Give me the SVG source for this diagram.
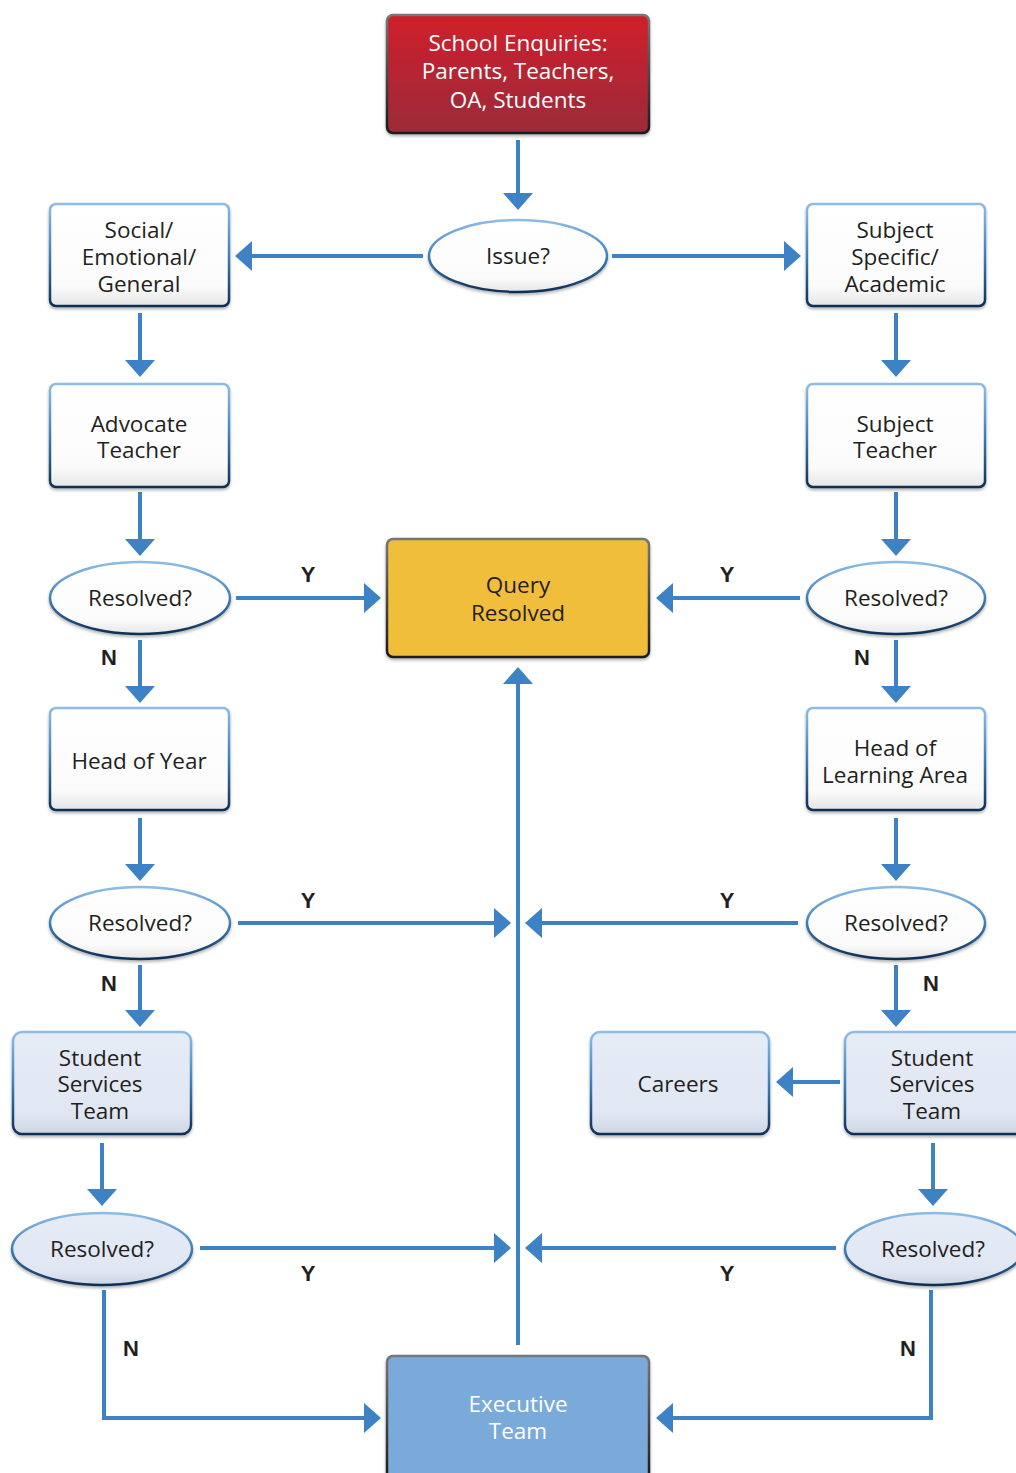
<svg xmlns="http://www.w3.org/2000/svg" width="1016" height="1473" viewBox="0 0 1016 1473">
<defs>
  <linearGradient id="gRed" x1="0" y1="0" x2="0" y2="1">
    <stop offset="0" stop-color="#cf1f2b"/>
    <stop offset="1" stop-color="#9c2b3a"/>
  </linearGradient>
  <linearGradient id="gWhite" x1="0" y1="0" x2="0" y2="1">
    <stop offset="0" stop-color="#ffffff"/>
    <stop offset="0.8" stop-color="#fbfbfb"/>
    <stop offset="1" stop-color="#e6e6e6"/>
  </linearGradient>
  <linearGradient id="gLight" x1="0" y1="0" x2="0" y2="1">
    <stop offset="0" stop-color="#e6ecf6"/>
    <stop offset="0.8" stop-color="#e0e7f3"/>
    <stop offset="1" stop-color="#cdd5e2"/>
  </linearGradient>
  <linearGradient id="gBorder" x1="0" y1="0" x2="0" y2="1">
    <stop offset="0" stop-color="#8dbde6"/>
    <stop offset="0.5" stop-color="#3f7fb8"/>
    <stop offset="1" stop-color="#0e2f55"/>
  </linearGradient>
  <linearGradient id="gDark" x1="0" y1="0" x2="0" y2="1">
    <stop offset="0" stop-color="#777777"/>
    <stop offset="1" stop-color="#1a1a1a"/>
  </linearGradient>
  <filter id="sh" x="-10%" y="-10%" width="120%" height="130%">
    <feDropShadow dx="0" dy="2" stdDeviation="1.5" flood-color="#000" flood-opacity="0.3"/>
  </filter>
  <marker id="ah" markerUnits="userSpaceOnUse" markerWidth="20" markerHeight="32" viewBox="0 0 20 32" refX="2" refY="16" orient="auto">
    <path d="M0,1 L17,16 L0,31 z" fill="#3d82c4"/>
  </marker>
</defs>
<style>
  .box { stroke: url(#gBorder); stroke-width: 2.5; filter: url(#sh); }
  .w { fill: url(#gWhite); }
  .lb { fill: url(#gLight); }
  .dk { stroke: url(#gDark); stroke-width: 2.5; filter: url(#sh); }
  .t { font-family: "Open Sans", "Noto Sans", sans-serif; font-size: 22.5px; fill: #231f20; text-anchor: middle; }
  .tw { font-family: "Open Sans", "Noto Sans", sans-serif; font-size: 22.5px; fill: #ffffff; text-anchor: middle; }
  .lbl { font-family: "Liberation Sans", Arial, sans-serif; font-size: 22px; font-weight: bold; fill: #231f20; text-anchor: middle; }
  .c { fill: none; stroke: #3d82c4; stroke-width: 4; marker-end: url(#ah); }
</style>
<rect width="1016" height="1473" fill="#ffffff"/>

<g id="connectors">
  <line class="c" x1="518" y1="140" x2="518" y2="195"/>
  <line class="c" x1="423" y1="256" x2="250" y2="256"/>
  <line class="c" x1="612" y1="256" x2="786" y2="256"/>
  <line class="c" x1="140" y1="313" x2="140" y2="362"/>
  <line class="c" x1="896" y1="313" x2="896" y2="362"/>
  <line class="c" x1="140" y1="492" x2="140" y2="541"/>
  <line class="c" x1="896" y1="492" x2="896" y2="541"/>
  <line class="c" x1="236" y1="598" x2="366" y2="598"/>
  <line class="c" x1="800" y1="598" x2="671" y2="598"/>
  <line class="c" x1="140" y1="640" x2="140" y2="688"/>
  <line class="c" x1="896" y1="640" x2="896" y2="688"/>
  <line class="c" x1="140" y1="818" x2="140" y2="866"/>
  <line class="c" x1="896" y1="818" x2="896" y2="866"/>
  <line class="c" x1="238" y1="923" x2="496" y2="923"/>
  <line class="c" x1="798" y1="923" x2="540" y2="923"/>
  <line class="c" x1="140" y1="965" x2="140" y2="1012"/>
  <line class="c" x1="896" y1="965" x2="896" y2="1012"/>
  <line class="c" x1="518" y1="1345" x2="518" y2="682"/>
  <line class="c" x1="102" y1="1143" x2="102" y2="1191"/>
  <line class="c" x1="933" y1="1143" x2="933" y2="1191"/>
  <line class="c" x1="200" y1="1248" x2="496" y2="1248"/>
  <line class="c" x1="836" y1="1248" x2="540" y2="1248"/>
  <line class="c" x1="840" y1="1082" x2="791" y2="1082"/>
  <path class="c" d="M104,1290 V1418 H366"/>
  <path class="c" d="M931,1290 V1418 H671"/>
  <text class="lbl" x="308" y="582">Y</text>
  <text class="lbl" x="727" y="582">Y</text>
  <text class="lbl" x="109" y="665">N</text>
  <text class="lbl" x="862" y="665">N</text>
  <text class="lbl" x="308" y="908">Y</text>
  <text class="lbl" x="727" y="908">Y</text>
  <text class="lbl" x="109" y="991">N</text>
  <text class="lbl" x="931" y="991">N</text>
  <text class="lbl" x="308" y="1281">Y</text>
  <text class="lbl" x="727" y="1281">Y</text>
  <text class="lbl" x="131" y="1356">N</text>
  <text class="lbl" x="908" y="1356">N</text>
</g>

<g id="n-start">
  <rect class="dk" x="387" y="15" width="262" height="118" rx="6" fill="url(#gRed)"/>
  <text class="tw" x="518" y="51">School Enquiries:</text>
  <text class="tw" x="518" y="79">Parents, Teachers,</text>
  <text class="tw" x="518" y="108">OA, Students</text>
</g>
<g id="n-issue">
  <ellipse class="box w" cx="518" cy="256" rx="89" ry="36"/>
  <text class="t" x="518" y="264">Issue?</text>
</g>
<g id="n-social">
  <rect class="box w" x="50" y="204" width="179" height="102" rx="6"/>
  <text class="t" x="139" y="238">Social/</text>
  <text class="t" x="139" y="265">Emotional/</text>
  <text class="t" x="139" y="292">General</text>
</g>
<g id="n-subject">
  <rect class="box w" x="807" y="204" width="178" height="102" rx="6"/>
  <text class="t" x="895" y="238">Subject</text>
  <text class="t" x="895" y="265">Specific/</text>
  <text class="t" x="895" y="292">Academic</text>
</g>
<g id="n-advocate">
  <rect class="box w" x="50" y="384" width="179" height="103" rx="6"/>
  <text class="t" x="139" y="432">Advocate</text>
  <text class="t" x="139" y="458">Teacher</text>
</g>
<g id="n-subjteacher">
  <rect class="box w" x="807" y="384" width="178" height="103" rx="6"/>
  <text class="t" x="895" y="432">Subject</text>
  <text class="t" x="895" y="458">Teacher</text>
</g>
<g id="n-res1l">
  <ellipse class="box w" cx="140" cy="598" rx="90" ry="36"/>
  <text class="t" x="140" y="606">Resolved?</text>
</g>
<g id="n-res1r">
  <ellipse class="box w" cx="896" cy="598" rx="89" ry="36"/>
  <text class="t" x="896" y="606">Resolved?</text>
</g>
<g id="n-query">
  <rect class="dk" x="387" y="539" width="262" height="118" rx="6" fill="#f0be3a"/>
  <text class="t" x="518" y="593">Query</text>
  <text class="t" x="518" y="621">Resolved</text>
</g>
<g id="n-hoy">
  <rect class="box w" x="50" y="708" width="179" height="102" rx="6"/>
  <text class="t" x="139" y="769">Head of Year</text>
</g>
<g id="n-hola">
  <rect class="box w" x="807" y="708" width="178" height="102" rx="6"/>
  <text class="t" x="895" y="756">Head of</text>
  <text class="t" x="895" y="783">Learning Area</text>
</g>
<g id="n-res2l">
  <ellipse class="box w" cx="140" cy="923" rx="90" ry="36"/>
  <text class="t" x="140" y="931">Resolved?</text>
</g>
<g id="n-res2r">
  <ellipse class="box w" cx="896" cy="923" rx="89" ry="36"/>
  <text class="t" x="896" y="931">Resolved?</text>
</g>
<g id="n-sstl">
  <rect class="box lb" x="13" y="1032" width="178" height="102" rx="9"/>
  <text class="t" x="100" y="1066">Student</text>
  <text class="t" x="100" y="1092">Services</text>
  <text class="t" x="100" y="1119">Team</text>
</g>
<g id="n-careers">
  <rect class="box lb" x="591" y="1032" width="178" height="102" rx="9"/>
  <text class="t" x="678" y="1092">Careers</text>
</g>
<g id="n-sstr">
  <rect class="box lb" x="845" y="1032" width="182" height="102" rx="9"/>
  <text class="t" x="932" y="1066">Student</text>
  <text class="t" x="932" y="1092">Services</text>
  <text class="t" x="932" y="1119">Team</text>
</g>
<g id="n-res3l">
  <ellipse class="box lb" cx="102" cy="1249" rx="90" ry="36"/>
  <text class="t" x="102" y="1257">Resolved?</text>
</g>
<g id="n-res3r">
  <ellipse class="box lb" cx="934" cy="1249" rx="89" ry="36"/>
  <text class="t" x="933" y="1257">Resolved?</text>
</g>
<g id="n-exec">
  <rect class="dk" x="387" y="1356" width="262" height="125" rx="6" fill="#7aaad9"/>
  <text class="tw" x="518" y="1412">Executive</text>
  <text class="tw" x="518" y="1439">Team</text>
</g>
</svg>
